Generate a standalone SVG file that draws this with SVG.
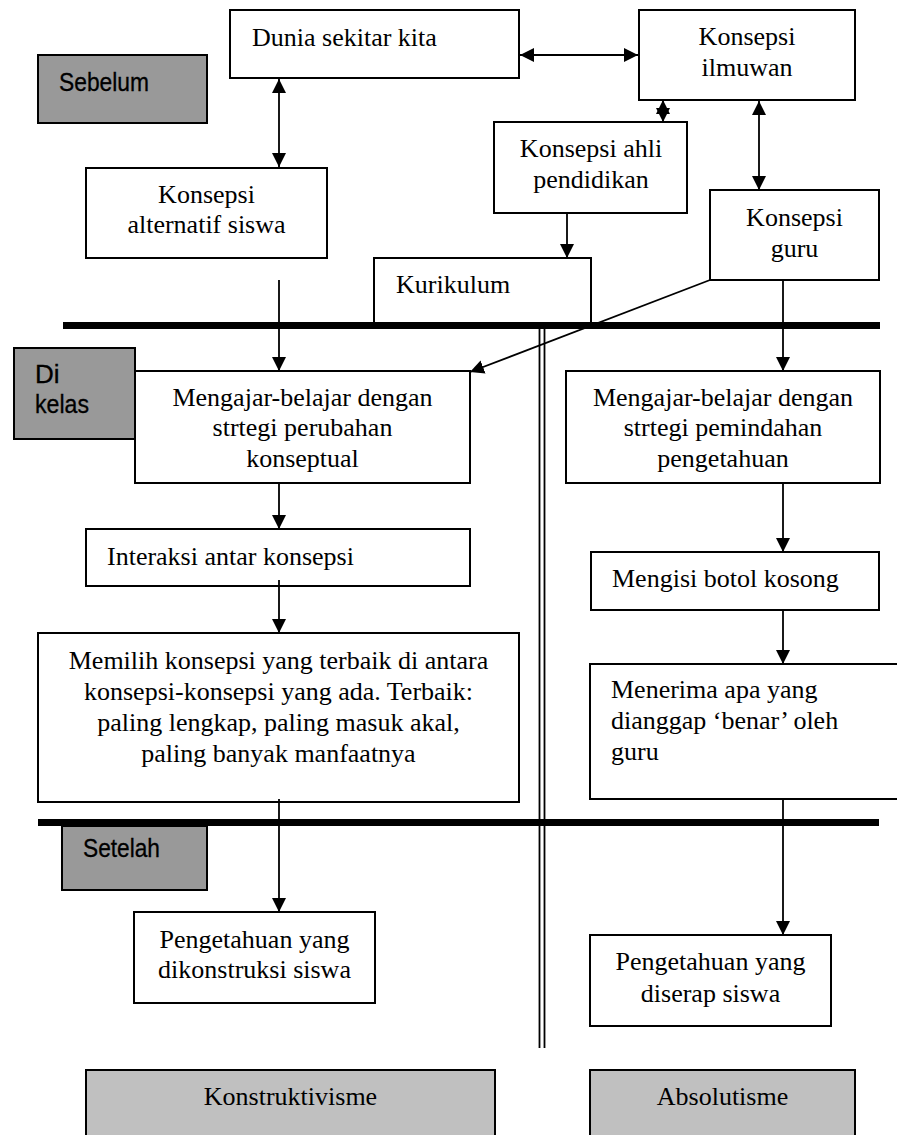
<svg xmlns="http://www.w3.org/2000/svg" width="897" height="1135" viewBox="0 0 897 1135">
<style>
.box{fill:#fff;stroke:#000;stroke-width:2}
.g1{fill:#999;stroke:#000;stroke-width:2}
.g2{fill:#c0c0c0;stroke:#000;stroke-width:2}
.t{font-family:"Liberation Serif","Times New Roman",serif;font-size:26px;fill:#000}
.c{text-anchor:middle}
.s{font-family:"Liberation Sans",Arial,sans-serif;font-size:26px;fill:#000;stroke:#000;stroke-width:0.3}
.ln{stroke:#000;stroke-width:1.8;fill:none}
</style>
<defs>
<marker id="ah" viewBox="0 0 14 14" markerWidth="14" markerHeight="14" refX="14" refY="7" orient="auto-start-reverse" markerUnits="userSpaceOnUse">
<path d="M0,0 L14,7 L0,14 z" fill="#000"/>
</marker>
</defs>
<rect width="897" height="1135" fill="#fff"/>

<g id="sebelum"><rect class="g1" x="38" y="55" width="169" height="68"/><text class="s" x="59" y="91" textLength="90" lengthAdjust="spacingAndGlyphs">Sebelum</text></g>
<g id="dikelas"><rect class="g1" x="14" y="348" width="121" height="91"/><text class="s" x="35" y="383">Di</text><text class="s" x="35" y="413" textLength="54" lengthAdjust="spacingAndGlyphs">kelas</text></g>
<g id="setelah"><rect class="g1" x="62" y="826" width="145" height="64"/><text class="s" x="83" y="857" textLength="77" lengthAdjust="spacingAndGlyphs">Setelah</text></g>

<g id="dunia"><rect class="box" x="230" y="10" width="289" height="68"/><text class="t" x="252" y="46">Dunia sekitar kita</text></g>
<g id="ilmuwan"><rect class="box" x="639" y="10" width="216" height="90"/><text class="t c" x="747" y="45">Konsepsi</text><text class="t c" x="747" y="76">ilmuwan</text></g>
<g id="ahli"><rect class="box" x="494" y="122" width="193" height="91"/><text class="t c" x="591" y="157">Konsepsi ahli</text><text class="t c" x="591" y="188">pendidikan</text></g>
<g id="guru"><rect class="box" x="710" y="190" width="169" height="90"/><text class="t c" x="794.5" y="226">Konsepsi</text><text class="t c" x="794.5" y="257">guru</text></g>
<g id="alternatif"><rect class="box" x="86" y="168" width="241" height="90"/><text class="t c" x="206.5" y="203">Konsepsi</text><text class="t c" x="206.5" y="233">alternatif siswa</text></g>
<g id="kurikulum"><rect class="box" x="374" y="258" width="217" height="67"/><text class="t" x="396" y="293">Kurikulum</text></g>

<g id="mengajar-kiri"><rect class="box" x="135" y="371" width="335" height="112"/><text class="t c" x="302.5" y="406">Mengajar-belajar dengan</text><text class="t c" x="302.5" y="436">strtegi perubahan</text><text class="t c" x="302.5" y="467">konseptual</text></g>
<g id="interaksi"><rect class="box" x="86" y="529" width="384" height="57"/><text class="t" x="107" y="565">Interaksi antar konsepsi</text></g>
<g id="memilih"><rect class="box" x="38" y="633" width="481" height="169"/><text class="t c" x="278.5" y="669">Memilih konsepsi yang terbaik di antara</text><text class="t c" x="278.5" y="700">konsepsi-konsepsi yang ada. Terbaik:</text><text class="t c" x="278.5" y="731">paling lengkap, paling masuk akal,</text><text class="t c" x="278.5" y="762">paling banyak manfaatnya</text></g>
<g id="pengetahuan-kiri"><rect class="box" x="134" y="912" width="241" height="91"/><text class="t c" x="254.5" y="948">Pengetahuan yang</text><text class="t c" x="254.5" y="978">dikonstruksi siswa</text></g>

<g id="mengajar-kanan"><rect class="box" x="566" y="371" width="314" height="112"/><text class="t c" x="723" y="406">Mengajar-belajar dengan</text><text class="t c" x="723" y="436">strtegi pemindahan</text><text class="t c" x="723" y="467">pengetahuan</text></g>
<g id="mengisi"><rect class="box" x="591" y="552" width="288" height="58"/><text class="t" x="612" y="587">Mengisi botol kosong</text></g>
<g id="menerima"><rect class="box" x="590" y="664" width="320" height="135"/><text class="t" x="611" y="698">Menerima apa yang</text><text class="t" x="611" y="729">dianggap ‘benar’ oleh</text><text class="t" x="611" y="760">guru</text></g>
<g id="pengetahuan-kanan"><rect class="box" x="590" y="935" width="241" height="91"/><text class="t c" x="710.5" y="970">Pengetahuan yang</text><text class="t c" x="710.5" y="1002">diserap siswa</text></g>

<g id="konstruktivisme"><rect class="g2" x="86" y="1070" width="409" height="80"/><text class="t c" x="290.5" y="1105">Konstruktivisme</text></g>
<g id="absolutisme"><rect class="g2" x="590" y="1070" width="265" height="80"/><text class="t c" x="722.5" y="1105">Absolutisme</text></g>

<g id="connectors">
<line class="ln" x1="279" y1="79" x2="279" y2="167" marker-start="url(#ah)" marker-end="url(#ah)"/>
<line class="ln" x1="520" y1="55" x2="638" y2="55" marker-start="url(#ah)" marker-end="url(#ah)"/>
<line class="ln" x1="663" y1="100" x2="663" y2="122" marker-start="url(#ah)" marker-end="url(#ah)"/>
<line class="ln" x1="759" y1="101" x2="759" y2="190" marker-start="url(#ah)" marker-end="url(#ah)"/>
<line class="ln" x1="567" y1="213" x2="567" y2="258" marker-end="url(#ah)"/>
<line class="ln" x1="279" y1="280" x2="279" y2="371" marker-end="url(#ah)"/>
<line class="ln" x1="783" y1="280" x2="783" y2="371" marker-end="url(#ah)"/>
<line class="ln" x1="710" y1="280" x2="470" y2="372" marker-end="url(#ah)"/>
<line class="ln" x1="279" y1="483" x2="279" y2="529" marker-end="url(#ah)"/>
<line class="ln" x1="279" y1="580" x2="279" y2="633" marker-end="url(#ah)"/>
<line class="ln" x1="279" y1="799" x2="279" y2="912" marker-end="url(#ah)"/>
<line class="ln" x1="783" y1="483" x2="783" y2="552" marker-end="url(#ah)"/>
<line class="ln" x1="783" y1="610" x2="783" y2="664" marker-end="url(#ah)"/>
<line class="ln" x1="783" y1="799" x2="783" y2="935" marker-end="url(#ah)"/>
<line class="ln" x1="539.5" y1="322" x2="539.5" y2="1048"/>
<line class="ln" x1="544.5" y1="322" x2="544.5" y2="1048"/>
<rect x="63" y="322" width="817" height="7" fill="#000"/>
<rect x="38" y="819" width="841" height="7" fill="#000"/>
</g>
</svg>
